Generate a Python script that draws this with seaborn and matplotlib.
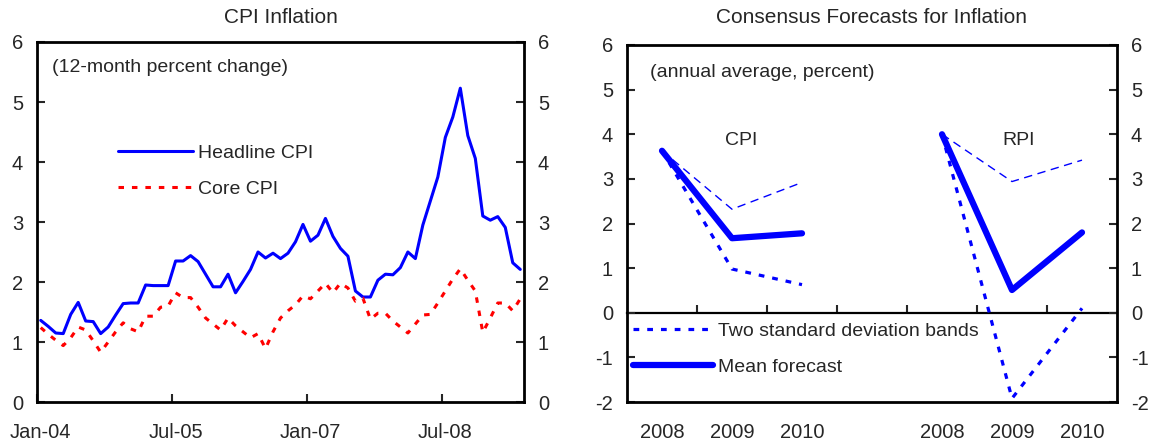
import numpy as np
import pandas as pd
import matplotlib
matplotlib.use("Agg")
import matplotlib.pyplot as plt
import seaborn as sns

# ---------------- data ----------------
month_labels = ["Jan-04", "Jul-05", "Jan-07", "Jul-08"]
month_label_index = [0, 18, 36, 54]

headline_cpi = [1.36, 1.26, 1.15, 1.14, 1.46, 1.66, 1.35, 1.34, 1.14, 1.25,
                1.45, 1.64, 1.65, 1.65, 1.95, 1.94, 1.94, 1.94, 2.35, 2.35,
                2.44, 2.34, 2.13, 1.92, 1.92, 2.13, 1.82, 2.01, 2.21, 2.50,
                2.40, 2.48, 2.39, 2.48, 2.67, 2.96, 2.68, 2.78, 3.06, 2.76,
                2.56, 2.43, 1.85, 1.75, 1.75, 2.03, 2.13, 2.12, 2.24, 2.50,
                2.39, 2.95, 3.35, 3.75, 4.41, 4.75, 5.23, 4.44, 4.06, 3.10,
                3.03, 3.09, 2.91, 2.32, 2.21]

core_cpi = [1.24, 1.13, 1.03, 0.94, 1.07, 1.25, 1.20, 1.02, 0.83, 1.00,
            1.17, 1.32, 1.22, 1.17, 1.43, 1.43, 1.58, 1.60, 1.82, 1.74,
            1.74, 1.58, 1.40, 1.30, 1.20, 1.40, 1.27, 1.17, 1.07, 1.14,
            0.89, 1.17, 1.40, 1.52, 1.62, 1.77, 1.72, 1.85, 1.98, 1.82,
            1.98, 1.90, 1.68, 1.73, 1.38, 1.48, 1.48, 1.35, 1.25, 1.15,
            1.30, 1.45, 1.46, 1.65, 1.85, 2.05, 2.22, 2.03, 1.85, 1.16,
            1.40, 1.65, 1.65, 1.52, 1.72]

forecast_years = ["2008", "2009", "2010"]
cpi_mean = [3.63, 1.67, 1.78]
cpi_upper = [3.63, 2.32, 2.92]
cpi_lower = [3.63, 0.98, 0.63]
rpi_mean = [4.00, 0.51, 1.80]
rpi_upper = [4.00, 2.94, 3.42]
rpi_lower = [4.00, -1.92, 0.10]

# ---------------- style ----------------
sns.set_theme(style="white")
plt.rcParams["font.family"] = ["Liberation Sans", "DejaVu Sans"]
plt.rcParams["axes.linewidth"] = 2.0
plt.rcParams["axes.edgecolor"] = "black"
plt.rcParams["axes.unicode_minus"] = False

BLUE = "#0000FF"
RED = "#FF0000"
FS = 14.5

fig = plt.figure(figsize=(11.58, 4.44), dpi=100)
ax1 = fig.add_axes([37 / 1158, 42 / 444, 487 / 1158, 360 / 444])
ax2 = fig.add_axes([627 / 1158, 42 / 444, 490 / 1158, 357 / 444])

# ---------------- left panel ----------------
n = len(headline_cpi)
x_month = np.arange(n) + 0.5
sns.lineplot(x=x_month, y=headline_cpi, ax=ax1, color=BLUE, linewidth=2.2,
             label="Headline CPI")
sns.lineplot(x=x_month, y=core_cpi, ax=ax1, color=RED, linewidth=2.2,
             linestyle=(0, (1.8, 2.6)), label="Core CPI")

ax1.set_xlim(0, n)
ax1.set_ylim(0, 6)
ax1.set_yticks(range(0, 7))
ax1.set_xticks(month_label_index)
ax1.set_xticklabels([])
ax1.set_xticks(np.array(month_label_index) + 0.5, minor=True)
ax1.set_xticklabels(month_labels, minor=True)
ax1.tick_params(axis="x", which="major", direction="in", length=6, width=1.5,
                bottom=True)
ax1.tick_params(axis="x", which="minor", length=0, pad=15, labelsize=FS)
ax1.tick_params(axis="y", direction="in", length=6, width=1.5, left=True,
                right=True, labelleft=True, labelright=True, pad=10,
                labelsize=FS)
ax1.set_xlabel("")
ax1.set_ylabel("")
ax1.set_title("CPI Inflation", fontsize=15, pad=14)
ax1.text(0.031, 0.928, "(12-month percent change)", transform=ax1.transAxes,
         fontsize=14, va="center", ha="left")
ax1.legend(loc="center left", bbox_to_anchor=(0.1663, 0.642), frameon=False,
           fontsize=14, handlelength=3.87, handletextpad=0.26,
           borderpad=0, borderaxespad=0, labelspacing=0.95)

# ---------------- right panel ----------------
x_cpi = np.arange(len(forecast_years))
x_rpi = np.arange(len(forecast_years)) + len(forecast_years) + 1
band_style = dict(color=BLUE, linewidth=2.3, linestyle=(0, (1.8, 2.5)))
upper_style = dict(color=BLUE, linewidth=1.0, linestyle=(0, (6, 4)))
mean_style = dict(color=BLUE, linewidth=4.5, solid_capstyle="round")

sns.lineplot(x=x_cpi, y=cpi_upper, ax=ax2, **upper_style)
sns.lineplot(x=x_rpi, y=rpi_upper, ax=ax2, **upper_style)
sns.lineplot(x=x_cpi, y=cpi_lower, ax=ax2, **band_style)
sns.lineplot(x=x_rpi, y=rpi_lower, ax=ax2, label="Two standard deviation bands",
             **band_style)
sns.lineplot(x=x_cpi, y=cpi_mean, ax=ax2, **mean_style)
sns.lineplot(x=x_rpi, y=rpi_mean, ax=ax2, label="Mean forecast", **mean_style)

n_slots = 2 * len(forecast_years) + 1
ax2.set_xlim(-0.5, n_slots - 0.5)
ax2.set_ylim(-2, 6)
ax2.set_yticks(range(-2, 7))
ax2.set_xticks(np.concatenate([x_cpi, x_rpi]))
ax2.set_xticklabels(forecast_years + forecast_years)
ax2.tick_params(axis="x", length=0, pad=15, labelsize=FS)
ax2.tick_params(axis="y", direction="in", length=6, width=1.5, left=True,
                right=True, labelleft=True, labelright=True, pad=10,
                labelsize=FS)
ax2.set_xlabel("")
ax2.set_ylabel("")
ax2.set_title("Consensus Forecasts for Inflation", fontsize=15, pad=16)

# category axis crossing at zero with tick marks between categories
ymin, ymax = ax2.get_ylim()
zero_pos = (0 - ymin) / (ymax - ymin)
sec = ax2.secondary_xaxis(zero_pos)
sec.set_xticks(np.arange(n_slots - 1) + 0.5)
sec.tick_params(axis="x", direction="in", length=6, width=1.5,
                labelbottom=False, labeltop=False)
sec.spines["bottom"].set_linewidth(1.6)

ax2.text(0.047, 0.922, "(annual average, percent)", transform=ax2.transAxes,
         fontsize=14, va="center", ha="left")
ax2.text(x_cpi[1] + 0.13, 3.86, "CPI", fontsize=14, ha="center", va="center")
ax2.text(x_rpi[1] + 0.1, 3.86, "RPI", fontsize=14, ha="center", va="center")

handles, labels = ax2.get_legend_handles_labels()
ax2.legend(handles, labels, loc="center left", bbox_to_anchor=(0.013, 0.148),
           frameon=False, fontsize=14, handlelength=4.1, handletextpad=0.24,
           borderpad=0, borderaxespad=0, labelspacing=0.95)

for ax in (ax1, ax2):
    for s in ax.spines.values():
        s.set_visible(True)
        s.set_color("black")
        s.set_linewidth(2.0)

fig.savefig("out.png", dpi=100)
